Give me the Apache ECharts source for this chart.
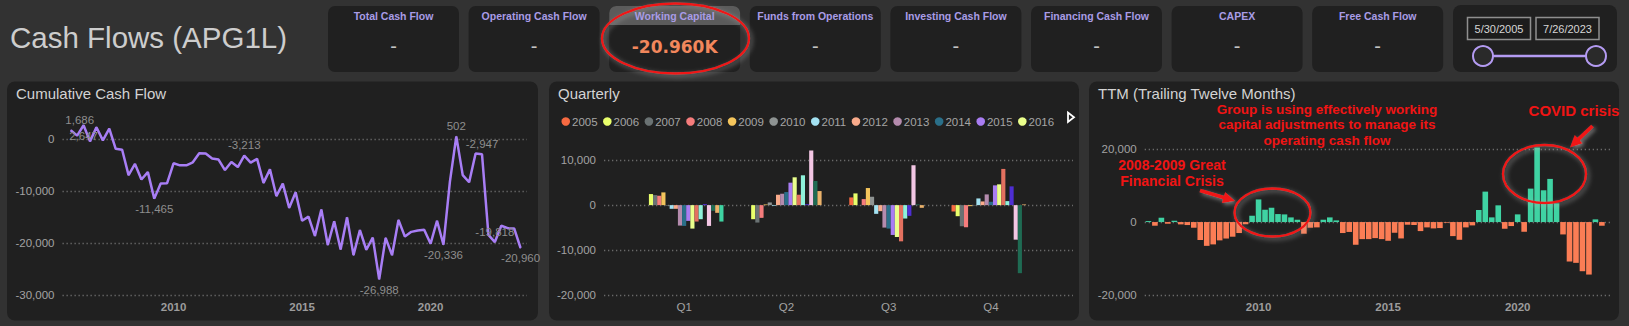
<!DOCTYPE html>
<html><head><meta charset="utf-8">
<script src="https://cdn.jsdelivr.net/npm/echarts@6/dist/echarts.min.js"></script>
<style>html,body{margin:0;padding:0;background:#323232;overflow:hidden}#c{width:1629px;height:326px}</style>
</head><body><div id="c"></div>
<script>
// ================= DATA =================
const pageTitle = 'Cash Flows (APG1L)';
const cardTitles = ['Total Cash Flow','Operating Cash Flow','Working Capital','Funds from Operations','Investing Cash Flow','Financing Cash Flow','CAPEX','Free Cash Flow'];
const cardValues = ['-','-','-20.960K','-','-','-','-','-'];
const dateFrom = '5/30/2005';
const dateTo = '7/26/2023';
const panelTitles = ['Cumulative Cash Flow','Quarterly','TTM (Trailing Twelve Months)'];

// quarterly periods 2005 Q3 ... 2023 Q1
const firstYear = 2005, firstQuarter = 3;

const cumulative = [1686, 649, 2647, -455, 2273, -260, 2013, -1883, -2078, -6948,
 -4805, -7792, -6364, -11465, -8571, -8506, -4675, -5065, -5065, -4480,
 -2727, -2792, -3766, -3961, -5974, -4416, -5390, -3213, -4545, -3831,
 -8442, -5844, -10974, -8571, -13247, -10260, -15714, -14935, -18636, -13571,
 -20390, -15844, -21233, -15065, -22338, -17532, -21299, -18961, -26988, -19026,
 -22338, -15584, -18766, -17857, -17597, -17467, -20130, -15714, -20336, -8247,
 502, -6948, -8312, -2792, -2947, -18442, -19818, -16688, -17143, -17208,
 -20960];
const cumLabelIdx = [0, 2, 13, 27, 48, 58, 60, 64, 66, 70];

const ttm = [273, -1000, 1182, -455, 364, -636, -818, -1550, -4900, -6500,
 -6100, -5000, -4500, -4000, -3000, -600, 1727, 6182, 3364, 3909,
 2182, 2091, 1273, 636, -3182, -1545, -1455, 636, 1273, 455,
 -3000, -2700, -6200, -4658, -4658, -4384, -4658, -5114, -2922, -4475,
 -730, -800, -2466, -1461, -1735, -1644, -183, -3836, -4840, -1461,
 -913, 3288, 8311, 1279, 4566, -1826, -1096, 2100, -2648, 9132,
 20365, 8676, 11781, 5114, -3379, -10776, -11142, -13425, -14338, 731,
 -1005];

const quarters = ['Q1','Q2','Q3','Q4'];
const years = ['2005','2006','2007','2008','2009','2010','2011','2012','2013','2014','2015','2016','2017','2018','2019','2020','2021','2022','2023'];
const legendYears = ['2005','2006','2007','2008','2009','2010','2011','2012','2013','2014','2015','2016'];
const quarterlyValues = [
 [null, null, 1710, -1413],
 [2454, -3123, 2602, -2454],
 [2230, -3866, -50, -4684],
 [2082, -2825, 1338, -4907],
 [2825, 150, 3792, -223],
 [-100, 595, 1859, -74],
 [-818, -150, -1933, 1487],
 [-818, 2305, -1338, 818],
 [-4535, 2528, -4981, 2379],
 [-4610, 2900, -5204, 743],
 [-3494, 4981, -6617, 4387],
 [-5204, 6171, -7063, 4610],
 [-3643, 2305, -8030, 8030],
 [-3123, 6617, -2974, 892],
 [223, 200, -2379, 4164],
 [-4610, 12119, 8848, -7658],
 [-1264, 5353, 150, -15093],
 [-1710, 3123, -595, 150],
 [-3643, null, null, null]
];

const yearTicks = [2010, 2015, 2020];
const cumTicks = [-30000, -20000, -10000, 0];
const qTicks = [-20000, -10000, 0, 10000];
const ttmTicks = [-20000, 0, 20000];

const annoMain = 'Group is using effectively working\ncapital adjustments to manage its\noperating cash flow';
const annoGfc = '2008-2009 Great\nFinancial Crisis';
const annoCovid = 'COVID crisis';

// ================= STYLE / LAYOUT =================
const FONT = '"Liberation Sans", Arial, sans-serif';
const PAGE = '#323232', PANEL = '#202020';
const yearColors = ['#F76A41','#E9FF6B','#6A7273','#F57C7C','#F4C55C','#8E9392','#A3E2F2','#F9AB8B','#B48BAD','#2A6F89','#A97DF3','#EAFF8C','#E3705F','#8EF2DA','#4E2ED3','#F3C6E4','#1F6B53','#EBB26B','#3ED3A2'];
const cumLabelPos = ['top','bottom','bottom','top','bottom','bottom','top','top','top','bottom'];
const cumLabelShift = [[9, 0], [0, 0], [0, 0], [0, 0], [0, 0], [0, 0], [0, 0], [0, 0], [0, 0], [0, 0]];
const POS = '#3FD3A3', NEG = '#FB7D55';
const RED = '#F01414';

// TTM bars sit at the end of each quarter; the cumulative line is plotted one quarter later
const qEnd = i => firstYear + firstQuarter / 4 + i / 4;
const qCum = i => firstYear + (firstQuarter + 1) / 4 + i / 4;
const fmt = v => Number(v).toLocaleString('en-US');

const gridLine = {show: true, showMaxLine: false, lineStyle: {color: '#6a6a6a', width: 1.3, type: [1.3, 2.7]}};
const yLabel = {color: '#a3a3a3', fontSize: 11.5, fontFamily: FONT, margin: 8, formatter: fmt};
const xLabel = {color: '#9c9c9c', fontSize: 11.5, fontFamily: FONT, fontWeight: 'bold', margin: 6};

function txt(x, y, text, o) {
  o = o || {};
  return {type: 'text', x: x, y: y, z: o.z || 10, silent: true, style: {
    text: text, fill: o.fill || '#ccc', fontSize: o.size || 12, fontFamily: o.family || FONT,
    fontWeight: o.weight || 'normal', align: o.align || 'left', verticalAlign: 'middle',
    textAlign: o.align || 'left', textVerticalAlign: 'middle', lineHeight: o.lh}};
}
function arrow(x1, y1, x2, y2, w, hl, hw) {
  const L = Math.hypot(x2 - x1, y2 - y1), ux = (x2 - x1) / L, uy = (y2 - y1) / L, nx = -uy, ny = ux;
  const bx = x2 - ux * hl, by = y2 - uy * hl;
  return {type: 'polygon', z: 60, silent: true, shape: {points: [
    [x1 + nx * w / 2, y1 + ny * w / 2], [bx + nx * w / 2, by + ny * w / 2], [bx + nx * hw / 2, by + ny * hw / 2],
    [x2, y2], [bx - nx * hw / 2, by - ny * hw / 2], [bx - nx * w / 2, by - ny * w / 2], [x1 - nx * w / 2, y1 - ny * w / 2]]},
    style: {fill: RED, shadowBlur: 4, shadowColor: 'rgba(170,170,170,0.7)', shadowOffsetX: 2, shadowOffsetY: 2}};
}
function ellipse(cx, cy, rx, ry) {
  return {type: 'ellipse', z: 60, silent: true, shape: {cx: cx, cy: cy, rx: rx, ry: ry},
    style: {fill: 'none', stroke: RED, lineWidth: 2.3, shadowBlur: 5, shadowColor: 'rgba(180,180,180,0.6)', shadowOffsetX: 2, shadowOffsetY: 2}};
}

const g = [];
g.push(txt(10, 37, pageTitle, {size: 29.5, fill: '#cdcdcd'}));
cardTitles.forEach((t, k) => {
  const x = 328 + 140.6 * k, cx = x + 65.5;
  g.push({type: 'rect', z: 1, silent: true, shape: {x: x, y: 6, width: 131, height: 66, r: 7}, style: {fill: PANEL}});
  if (cardValues[k] !== '-') {
    g.push({type: 'rect', z: 2, silent: true, shape: {x: x, y: 6, width: 131, height: 19, r: [7, 7, 0, 0]}, style: {fill: '#5b5b5b'}});
    g.push(txt(cx, 47, cardValues[k], {size: 17, weight: 'bold', family: '"DejaVu Sans", sans-serif', fill: '#F2875C', align: 'center'}));
  } else {
    g.push(txt(cx, 46, cardValues[k], {size: 20, fill: '#c4c4c4', align: 'center'}));
  }
  g.push(txt(cx, 16, t, {size: 10.5, weight: 'bold', fill: '#A99CE6', align: 'center'}));
});
// date slicer
g.push({type: 'rect', z: 1, silent: true, shape: {x: 1453, y: 5, width: 164, height: 67, r: 8}, style: {fill: PANEL}});
g.push({type: 'rect', z: 2, silent: true, shape: {x: 1467.5, y: 17.5, width: 63, height: 22}, style: {fill: '#1c1c1c', stroke: '#8f8f8f', lineWidth: 1.5}});
g.push({type: 'rect', z: 2, silent: true, shape: {x: 1536, y: 17.5, width: 63, height: 22}, style: {fill: '#1c1c1c', stroke: '#8f8f8f', lineWidth: 1.5}});
g.push(txt(1499, 28.5, dateFrom, {size: 11, fill: '#d6d6d6', align: 'center'}));
g.push(txt(1567.5, 28.5, dateTo, {size: 11, fill: '#d6d6d6', align: 'center'}));
g.push({type: 'line', z: 3, silent: true, shape: {x1: 1483, y1: 56, x2: 1596, y2: 56}, style: {stroke: '#B49BF2', lineWidth: 2.5}});
g.push({type: 'circle', z: 4, silent: true, shape: {cx: 1483, cy: 56, r: 10}, style: {fill: '#2a2a2a', stroke: '#B49BF2', lineWidth: 2}});
g.push({type: 'circle', z: 4, silent: true, shape: {cx: 1596, cy: 56, r: 10}, style: {fill: '#2a2a2a', stroke: '#B49BF2', lineWidth: 2}});
// panels
[[7, 531], [549, 530], [1089, 530]].forEach((p, k) => {
  g.push({type: 'rect', z: -5, silent: true, shape: {x: p[0], y: 81.5, width: p[1], height: 239, r: 8}, style: {fill: PANEL}});
  g.push(txt(p[0] + 9, 93, panelTitles[k], {size: 15, fill: '#d3d3d3'}));
});
// legend page arrow
g.push({type: 'polygon', z: 10, silent: true, shape: {points: [[1068, 112.5], [1068, 122], [1074, 117.3]]}, style: {fill: 'none', stroke: '#ffffff', lineWidth: 1.8}});
// annotations
g.push(ellipse(675.5, 38.5, 73.5, 35));
g.push(txt(1327, 124.7, annoMain, {size: 13.5, weight: 'bold', fill: RED, align: 'center', lh: 15.7, z: 61}));
g.push(txt(1172, 173.3, annoGfc, {size: 14, weight: 'bold', fill: RED, align: 'center', lh: 16, z: 61}));
g.push(txt(1574, 110.5, annoCovid, {size: 15, weight: 'bold', fill: RED, align: 'center', z: 61}));
g.push(arrow(1200, 190.5, 1235, 201, 3.8, 12, 11.5));
g.push(arrow(1592.5, 126, 1570, 147.5, 3.8, 12, 11.5));
g.push(ellipse(1272.5, 212.5, 38, 24));
g.push(ellipse(1544.5, 174, 41.5, 29));

// ================= CHART =================
const chart = echarts.init(document.getElementById('c'), null, {renderer: 'svg', width: 1629, height: 326});

const cumSeries = {
  type: 'line', xAxisIndex: 0, yAxisIndex: 0, z: 5,
  data: cumulative.map((v, i) => {
    const item = {value: [qCum(i), v]};
    const k = cumLabelIdx.indexOf(i);
    if (k >= 0) item.label = {show: true, position: cumLabelPos[k], offset: cumLabelShift[k]};
    return item;
  }),
  showSymbol: true, symbol: 'circle', symbolSize: 1,
  itemStyle: {color: '#A87EF5'},
  lineStyle: {color: '#A87EF5', width: 2.5},
  label: {show: false, color: '#8e8e8e', fontSize: 11.5, fontFamily: FONT, distance: 4, formatter: p => fmt(p.value[1])},
  emphasis: {disabled: true}
};

const qSeries = years.map((y, k) => ({
  type: 'bar', name: y, xAxisIndex: 2, yAxisIndex: 2,
  data: quarterlyValues[k], itemStyle: {color: yearColors[k]},
  barGap: '0%', barCategoryGap: '23%', emphasis: {disabled: true}
}));

const ttmSeries = {
  type: 'bar', xAxisIndex: 3, yAxisIndex: 3, barWidth: 5.6,
  data: ttm.map((v, i) => ({value: [qEnd(i), v], itemStyle: {color: v >= 0 ? POS : NEG}})),
  emphasis: {disabled: true}
};

const hidden = {show: false};
chart.setOption({
  animation: false,
  backgroundColor: PAGE,
  textStyle: {fontFamily: FONT},
  graphic: {elements: g},
  legend: {
    data: legendYears, left: 556.5, top: 110.5, icon: 'circle', itemWidth: 8.5, itemHeight: 8.5, itemGap: 5.5,
    textStyle: {color: '#a5a5a5', fontSize: 11.5, fontFamily: FONT, padding: [0, 0, 0, -3]}, selectedMode: false
  },
  grid: [
    {left: 62.5, right: 1102, top: 113, bottom: 31, outerBoundsMode: 'none'},
    {left: 604, right: 556, top: 137.5, bottom: 30.7, outerBoundsMode: 'none'},
    {left: 633, right: 587, top: 137.5, bottom: 30.7, outerBoundsMode: 'none'},
    {left: 1144.7, right: 18.3, top: 130.5, bottom: 30.7, outerBoundsMode: 'none'}
  ],
  xAxis: [
    {type: 'value', gridIndex: 0, min: 2005.68, max: 2023.75, axisLine: hidden, axisTick: hidden, splitLine: hidden,
     axisLabel: Object.assign({}, xLabel, {customValues: yearTicks, formatter: v => String(Math.round(v))})},
    {type: 'value', gridIndex: 1, min: 0, max: 1, show: false},
    {type: 'category', gridIndex: 2, data: quarters, axisLine: hidden, axisTick: hidden, splitLine: hidden,
     axisLabel: Object.assign({}, xLabel, {fontWeight: 'normal', color: '#a3a3a3'})},
    {type: 'value', gridIndex: 3, min: 2005.606, max: 2023.59, axisLine: hidden, axisTick: hidden, splitLine: hidden,
     axisLabel: Object.assign({}, xLabel, {customValues: yearTicks, formatter: v => String(Math.round(v))})}
  ],
  yAxis: [
    {type: 'value', gridIndex: 0, min: -30000, max: 5000, interval: 10000, axisLine: hidden, axisTick: hidden,
     splitLine: gridLine, axisLabel: Object.assign({}, yLabel, {customValues: cumTicks})},
    {type: 'value', gridIndex: 1, min: -20000, max: 15000, interval: 10000, axisLine: hidden, axisTick: hidden,
     splitLine: gridLine, axisLabel: Object.assign({}, yLabel, {customValues: qTicks})},
    {type: 'value', gridIndex: 2, min: -20000, max: 15000, show: false, splitLine: hidden},
    {type: 'value', gridIndex: 3, min: -20000, max: 25000, interval: 20000, axisLine: hidden, axisTick: hidden,
     splitLine: gridLine, axisLabel: Object.assign({}, yLabel, {customValues: ttmTicks})}
  ],
  series: [cumSeries].concat(qSeries, [ttmSeries])
});
</script></body></html>
